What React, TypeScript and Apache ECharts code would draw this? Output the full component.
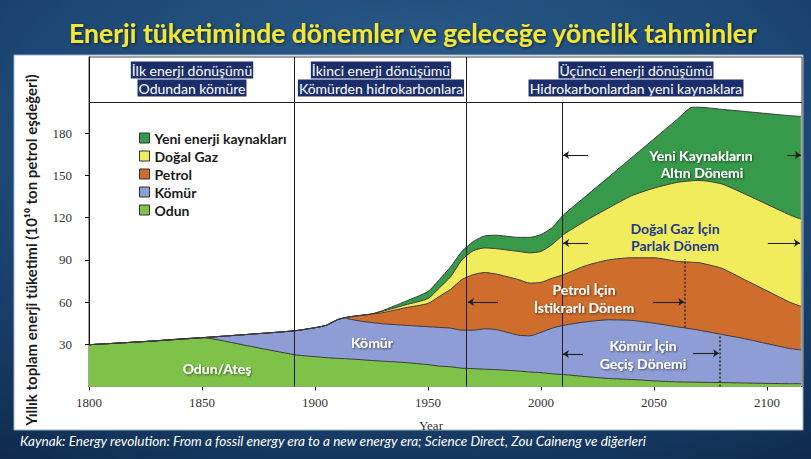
import React, { useEffect, useRef } from "react";
import * as echarts from "echarts";

// ---- Data ----
const years = [1800, 1825, 1850, 1870, 1891, 1900, 1905, 1910, 1913, 1915, 1920, 1925, 1930, 1940, 1950, 1955, 1960, 1965, 1970, 1975, 1980, 1990, 1995, 2000, 2005, 2010, 2020, 2030, 2040, 2050, 2060, 2067, 2070, 2080, 2090, 2100, 2110, 2115];
const odun = [29.7, 32, 34.7, 29, 22.6, 21.2, 20.5, 20, 19.8, 19.6, 19.1, 18.5, 18, 17, 15.5, 14.5, 14, 13, 12.7, 12.3, 12, 11, 10.3, 9.9, 9, 8.5, 7, 5.7, 5, 4, 3.3, 3.1, 3, 2.8, 2.5, 2.2, 2, 2];
const komur = [0, 0, 0, 8, 17, 20.6, 23, 27.5, 29, 28.4, 27.4, 27, 26.6, 26.5, 27, 27.5, 27.5, 27, 27.3, 28.7, 28.5, 25.5, 25.7, 28.6, 32.5, 35, 39, 41.7, 42, 41, 39.2, 37.7, 37, 34.2, 31.5, 28.3, 25, 24];
const petrol = [0, 0, 0, 0, 0, 0, 0, 0, 0, 1.5, 4, 6, 7.9, 12.5, 16.5, 22, 27.5, 36, 39.5, 40, 39.5, 39.5, 37.5, 35.5, 35.5, 36, 40, 42.6, 44.5, 46.5, 46.5, 47.5, 48, 47, 42, 37.5, 33, 31];
const dogalGaz = [0, 0, 0, 0, 0, 0, 0, 0, 0, 0, 0, 0, 1, 2, 3.5, 6, 9, 14, 17, 17.5, 18, 20, 21.5, 22, 24, 28.5, 32, 37, 44, 49.5, 56, 58, 58.5, 60, 61, 61.5, 62, 62];
const yeni = [0, 0, 0, 0, 0, 0, 0, 0, 0, 0, 0, 0, 0.5, 2.5, 5, 6, 7, 6, 6.5, 8.5, 9.5, 10, 11, 12, 12, 14, 17.5, 22, 27, 35, 44.5, 52.2, 52, 53, 58.5, 64.5, 70.5, 73];

const xTicks = [1800, 1850, 1900, 1950, 2000, 2050, 2100];
const yTicks = [30, 60, 90, 120, 150, 180];

const seriesNames = ["Odun", "Kömür", "Petrol", "Doğal Gaz", "Yeni enerji kaynakları"];
const legendOrder = ["Yeni enerji kaynakları", "Doğal Gaz", "Petrol", "Kömür", "Odun"];
const colors = ["#7fc24a", "#8e9dd6", "#cf6d2d", "#f1ec5c", "#37994a"];

// period boundaries (years) and header
const eraLines = [1891, 1967];
const thirdLine = 2009.3;
const headerValue = 202.2;
const yMax = 234.2;
const xMin = 1800;
const xMax = 2115.5;

const headerTexts = [
  ["İlk enerji dönüşümü", "Odundan kömüre"],
  ["İkinci enerji dönüşümü", "Kömürden hidrokarbonlara"],
  ["Üçüncü enerji dönüşümü", "Hidrokarbonlardan yeni kaynaklara"],
];

// arrows: [fromYear, fromValue, toYear, toValue]
const arrows = [
  [2020.8, 164.5, 2009.8, 164.5],
  [2109, 164.5, 2115, 164.5],
  [2020.8, 102, 2009.8, 102],
  [2100.4, 102, 2114.6, 102],
  [1981, 60, 1967.7, 60],
  [2049.6, 60, 2063.4, 60],
  [2018.6, 23.1, 2009.7, 23.1],
  [2067.3, 23.7, 2078.8, 23.7],
];
const dottedLines = [
  [2063.7, 41.8, 90.6],
  [2079.2, 0, 36],
];

export default function App() {
  const ref = useRef<HTMLDivElement>(null);
  useEffect(() => {
    if (!ref.current) return;
    const chart = echarts.init(ref.current, null, { renderer: "svg" });
    const datas = [odun, komur, petrol, dogalGaz, yeni];
    // cumulative totals for each layer (stacked bottom-up)
    const cumulative = datas.map((_, k) =>
      years.map((_, i) => {
        let s = 0;
        for (let j = 0; j <= k; j++) s += datas[j][i];
        return Math.round(s * 100) / 100;
      })
    );
    // draw the top layer first so the lower layers cover it
    const series: any[] = [4, 3, 2, 1, 0].map((k) => ({
      type: "line",
      name: seriesNames[k],
      smooth: 0.2,
      symbol: "none",
      showSymbol: false,
      data: years.map((y, i) => [y, cumulative[k][i]]),
      lineStyle: { color: "#3b3b3b", width: 1 },
      itemStyle: { color: colors[k] },
      areaStyle: { color: colors[k], opacity: 1, origin: "start" },
    }));
    series.push({
      type: "line",
      name: "lines",
      data: [],
      markLine: {
        silent: true,
        animation: false,
        symbol: ["none", "none"],
        label: { show: false },
        lineStyle: { color: "#1e1e1e", width: 1, type: "solid" },
        data: [
          ...eraLines.map((x) => ({ xAxis: x })),
          { yAxis: headerValue },
          [{ coord: [thirdLine, 0] }, { coord: [thirdLine, headerValue] }],
        ],
      },
    });
    series.push({
      type: "line",
      name: "dotted",
      data: [],
      markLine: {
        silent: true,
        animation: false,
        symbol: ["none", "none"],
        label: { show: false },
        lineStyle: { color: "#2a2a2a", width: 1.5, type: [2, 2] },
        data: dottedLines.map((d) => [{ coord: [d[0], d[1]] }, { coord: [d[0], d[2]] }]),
      },
    });
    series.push({
      type: "line",
      name: "arrows",
      data: [],
      markLine: {
        silent: true,
        animation: false,
        symbol: ["none", "arrow"],
        symbolSize: 6,
        label: { show: false },
        lineStyle: { color: "#1e1e1e", width: 1.1, type: "solid" },
        data: arrows.map((a) => [
          { coord: [a[0], a[1]], symbol: "none" },
          { coord: [a[2], a[3]], symbol: "arrow", symbolSize: 6 },
        ]),
      },
    });

    const white = { fill: "#ffffff", textShadowColor: "rgba(0,0,0,0.55)", textShadowBlur: 2, textShadowOffsetX: 1, textShadowOffsetY: 1 };
    const txt = (text: string, x: number, y: number, style: any, z = 50) => ({
      type: "text",
      x,
      y,
      z,
      silent: true,
      style: { text, align: "center", verticalAlign: "middle", textAlign: "center", textVerticalAlign: "middle", ...style },
    });
    const plotFont = "bold 14px Lato";
    const headerFont = "14px Lato";
    const hdr = { fill: "#ffffff", backgroundColor: "#1b2e6b", padding: [1.5, 1, 1.5, 1], font: headerFont };
    const headerX = [192, 381, 636];

    const graphic: any[] = [
      {
        type: "rect",
        z: -20,
        silent: true,
        shape: { x: 0, y: 0, width: 811, height: 459 },
        style: {
          fill: new echarts.graphic.RadialGradient(0.5, 0.3, 0.85, [
            { offset: 0, color: "#2f6391" },
            { offset: 0.6, color: "#1c4673" },
            { offset: 1, color: "#0f2c50" },
          ]),
        },
      },
      {
        type: "rect",
        z: -10,
        silent: true,
        shape: { x: 14, y: 55, width: 789, height: 375 },
        style: { fill: "#ffffff", stroke: "#9fb0c4", lineWidth: 1 },
      },
      txt("Enerji tüketiminde dönemler ve geleceğe yönelik tahminler", 413, 33, {
        fill: "#f4e634",
        font: "bold 26.5px Lato",
        textShadowColor: "rgba(0,0,0,0.6)",
        textShadowBlur: 3,
        textShadowOffsetX: 1,
        textShadowOffsetY: 1,
      }),
      txt("Kaynak: Energy revolution: From a fossil energy era to a new energy era; Science Direct, Zou Caineng ve diğerleri", 20, 441, {
        fill: "#ffffff",
        font: "italic 13.6px Lato",
        align: "left",
        textAlign: "left",
      }),
      {
        type: "text",
        x: 31,
        y: 250,
        rotation: Math.PI / 2,
        z: 50,
        silent: true,
        style: {
          text: "Yıllık toplam enerji tüketimi (10¹⁰ ton petrol eşdeğeri)",
          font: "bold 15px Lato",
          fill: "#1c1c1c",
          align: "center",
          verticalAlign: "middle",
          textAlign: "center",
          textVerticalAlign: "middle",
        },
      },
      txt("Year", 431, 425, { fill: "#333", font: "13px 'Liberation Serif'" }),
      ...headerTexts.flatMap((lines, i) => [
        txt(lines[0], headerX[i], 70, hdr),
        txt(lines[1], headerX[i], 88, hdr),
      ]),
      txt("Odun/Ateş", 217, 368, { ...white, font: plotFont }),
      txt("Kömür", 372, 342, { ...white, font: plotFont }),
      txt("Petrol İçin", 584, 289, { ...white, font: plotFont }),
      txt("İstikrarlı Dönem", 584, 307, { ...white, font: plotFont }),
      txt("Kömür İçin", 643, 345, { ...white, font: plotFont }),
      txt("Geçiş Dönemi", 643, 363, { ...white, font: plotFont }),
      txt("Doğal Gaz İçin", 675, 228, { fill: "#1d3a8c", font: plotFont }),
      txt("Parlak Dönem", 675, 245, { fill: "#1d3a8c", font: plotFont }),
      txt("Yeni Kaynakların", 701, 155, { ...white, font: plotFont }),
      txt("Altın Dönemi", 702, 172, { ...white, font: plotFont }),
    ];

    chart.setOption({
      animation: false,
      backgroundColor: "#1c4673",
      grid: { left: 89, right: 9, top: 57, bottom: 72.5, show: true, borderColor: "#444", borderWidth: 1, backgroundColor: "transparent", containLabel: false },
      legend: {
        orient: "vertical",
        left: 134,
        top: 126,
        itemWidth: 10,
        itemHeight: 10,
        itemGap: 4,
        icon: "rect",
        data: legendOrder,
        itemStyle: { borderColor: "#333", borderWidth: 1 },
        textStyle: { fontFamily: "Lato", fontWeight: "bold", fontSize: 14, color: "#1a1a1a" },
        selectedMode: false,
      },
      xAxis: {
        type: "value",
        min: xMin,
        max: xMax,
        interval: 50,
        axisLine: { show: true, lineStyle: { color: "#111", width: 1 } },
        axisTick: { show: true, length: 4, customValues: xTicks, lineStyle: { color: "#111" } },
        axisLabel: { customValues: xTicks, formatter: (v: number) => String(v), fontFamily: "Liberation Serif", fontSize: 13, color: "#333", margin: 9 },
        splitLine: { show: false },
      },
      yAxis: {
        type: "value",
        min: 0,
        max: yMax,
        interval: 30,
        axisLine: { show: true, lineStyle: { color: "#111", width: 1 } },
        axisTick: { show: true, length: 4, customValues: yTicks, lineStyle: { color: "#111" } },
        axisLabel: { customValues: yTicks, formatter: (v: number) => String(v), fontFamily: "Liberation Serif", fontSize: 13, color: "#333", margin: 17 },
        splitLine: { show: false },
      },
      series,
      graphic,
    });
    return () => chart.dispose();
  }, []);
  return <div ref={ref} style={{ position: "fixed", left: 0, top: 0, width: 811, height: 459 }} />;
}
